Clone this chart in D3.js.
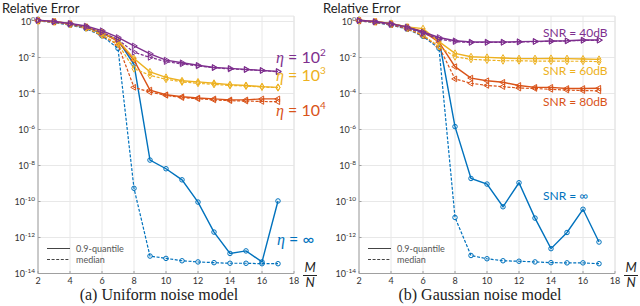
<!DOCTYPE html>
<html>
<head>
<meta charset="utf-8">
<script src="https://cdn.jsdelivr.net/npm/d3@7"></script>
<style>
body { margin: 0; background: #fff; }
svg { display: block; }
</style>
</head>
<body>
<svg id="chart" width="640" height="306" font-family="Lato, 'DejaVu Sans', sans-serif"></svg>
<script>
// M/N values (x axis)
var ratios = [2, 3, 4, 5, 6, 7, 8, 9, 10, 11, 12, 13, 14, 15, 16, 17];
var xTicks = [2, 4, 6, 8, 10, 12, 14, 16, 18];
var yTicks = [1e0, 1e-2, 1e-4, 1e-6, 1e-8, 1e-10, 1e-12, 1e-14];

// (a) uniform noise, 0.9-quantile (q) and median (m)
var uniEta2Q = [1.2, 1.02, 0.79, 0.56, 0.31, 0.13, 4.4e-2, 1.6e-2, 7.2e-3, 5.1e-3, 3.7e-3, 2.8e-3, 2.5e-3, 2.2e-3, 1.9e-3, 1.7e-3];
var uniEta2M = [1.12, 0.95, 0.71, 0.48, 0.25, 0.10, 1.95e-2, 1.02e-2, 5.9e-3, 4.4e-3, 3.4e-3, 2.7e-3, 2.3e-3, 2.1e-3, 1.9e-3, 1.6e-3];
var uniEta3Q = [1.15, 1.0, 0.76, 0.5, 0.25, 9.3e-2, 8.7e-3, 1.6e-3, 7.9e-4, 5.1e-4, 4.4e-4, 3.7e-4, 3.1e-4, 2.8e-4, 2.4e-4, 2.2e-4];
var uniEta3M = [1.07, 0.93, 0.68, 0.44, 0.18, 5.6e-2, 2.4e-3, 1.02e-3, 6.2e-4, 4.4e-4, 3.7e-4, 3.2e-4, 2.8e-4, 2.6e-4, 2.3e-4, 2.1e-4];
var uniEta4Q = [1.15, 1.0, 0.76, 0.5, 0.24, 7.9e-2, 7.2e-3, 1.55e-4, 8.5e-5, 6.6e-5, 5.6e-5, 5.0e-5, 4.4e-5, 4.4e-5, 5.0e-5, 5.0e-5];
var uniEta4M = [1.07, 0.93, 0.68, 0.44, 0.17, 5.0e-2, 2.2e-4, 1.2e-4, 7.9e-5, 5.9e-5, 5.1e-5, 4.4e-5, 4.0e-5, 3.8e-5, 3.6e-5, 3.5e-5];
var uniInfQ = [1.12, 0.98, 0.74, 0.48, 0.22, 9.3e-2, 4.2e-3, 2.0e-8, 6.6e-9, 1.6e-9, 9.3e-11, 2.0e-12, 1.3e-13, 1.8e-13, 4.4e-14, 1.07e-10];
var uniInfM = [1.05, 0.89, 0.63, 0.4, 0.16, 3.2e-2, 5.4e-10, 9.3e-14, 6.9e-14, 5.1e-14, 4.4e-14, 4.0e-14, 3.7e-14, 3.7e-14, 3.5e-14, 3.5e-14];

// (b) gaussian noise
var gauss40Q = [1.17, 1.0, 0.76, 0.5, 0.26, 0.13, 8.5e-2, 7.2e-2, 7.2e-2, 7.2e-2, 7.6e-2, 7.9e-2, 8.3e-2, 8.5e-2, 9.3e-2, 9.3e-2];
var gauss40M = [1.1, 0.93, 0.68, 0.43, 0.22, 0.105, 7.6e-2, 6.8e-2, 6.8e-2, 6.9e-2, 7.2e-2, 7.6e-2, 7.9e-2, 8.3e-2, 8.9e-2, 9.1e-2];
var gauss60Q = [1.17, 1.0, 0.79, 0.5, 0.4, 7.6e-2, 1.7e-2, 1.1e-2, 1.02e-2, 9.3e-3, 8.7e-3, 8.7e-3, 8.9e-3, 8.7e-3, 8.3e-3, 7.9e-3];
var gauss60M = [1.1, 0.93, 0.71, 0.43, 0.18, 4.0e-2, 1.1e-2, 7.9e-3, 7.2e-3, 6.6e-3, 6.6e-3, 6.3e-3, 6.3e-3, 6.2e-3, 6.2e-3, 5.9e-3];
var gauss80Q = [1.15, 1.0, 0.76, 0.5, 0.28, 7.1e-2, 3.1e-3, 7.2e-4, 5.1e-4, 4.2e-4, 2.8e-4, 2.2e-4, 2.2e-4, 1.9e-4, 1.9e-4, 1.95e-4];
var gauss80M = [1.07, 0.91, 0.66, 0.4, 0.16, 4.0e-2, 6.5e-4, 3.7e-4, 2.8e-4, 2.4e-4, 2.0e-4, 1.9e-4, 1.7e-4, 1.55e-4, 1.45e-4, 1.4e-4];
var gaussInfQ = [1.12, 0.98, 0.74, 0.48, 0.25, 0.1, 1.45e-6, 1.9e-9, 9.3e-10, 5.1e-11, 1.1e-9, 1.2e-11, 2.4e-13, 1.9e-12, 3.7e-11, 5.6e-13];
var gaussInfM = [1.05, 0.89, 0.63, 0.38, 0.15, 3.2e-2, 1.3e-11, 1.0e-13, 6.6e-14, 5.1e-14, 4.8e-14, 4.4e-14, 4.0e-14, 3.9e-14, 3.9e-14, 3.5e-14];

var blue = "#0072BD", orange = "#D95319", yellow = "#EDB120", purple = "#7E2F8E";

var svg = d3.select("#chart");
var yTop = 16.1, yBot = 273.5;
var serif = "'Liberation Serif', 'DejaVu Serif', serif";

function drawPanel(opt) {
    var x = d3.scaleLinear().domain([2, 18]).range([opt.x0, opt.x0 + 256]);
    var y = d3.scaleLog().domain([1e-14, Math.pow(10, 0.3)]).range([yBot, yTop]);
    var g = svg.append("g");

    // grid
    g.selectAll(".gx").data(xTicks).enter().append("line")
        .attr("x1", function(d){ return x(d); }).attr("x2", function(d){ return x(d); })
        .attr("y1", yTop).attr("y2", yBot)
        .attr("stroke", "#e8e8e8").attr("stroke-width", 1);
    g.selectAll(".gy").data(yTicks).enter().append("line")
        .attr("x1", x(2)).attr("x2", x(18))
        .attr("y1", function(d){ return y(d); }).attr("y2", function(d){ return y(d); })
        .attr("stroke", "#e8e8e8").attr("stroke-width", 1);
    g.append("line").attr("x1", x(2)).attr("x2", x(18)).attr("y1", yTop).attr("y2", yTop)
        .attr("stroke", "#e4e4e4");
    g.append("line").attr("x1", x(18)).attr("x2", x(18)).attr("y1", yTop).attr("y2", yBot)
        .attr("stroke", "#e4e4e4");

    // axes lines
    g.append("line").attr("x1", x(2)).attr("x2", x(2)).attr("y1", yTop).attr("y2", yBot)
        .attr("stroke", "#a0a0a0").attr("stroke-width", 1);
    g.append("line").attr("x1", x(2)).attr("x2", x(18)).attr("y1", yBot).attr("y2", yBot)
        .attr("stroke", "#a0a0a0").attr("stroke-width", 1);
    g.selectAll(".tx").data(xTicks).enter().append("line")
        .attr("x1", function(d){ return x(d); }).attr("x2", function(d){ return x(d); })
        .attr("y1", yBot).attr("y2", yBot - 2.5).attr("stroke", "#a0a0a0");
    g.selectAll(".ty").data(yTicks).enter().append("line")
        .attr("x1", x(2)).attr("x2", x(2) + 2.5)
        .attr("y1", function(d){ return y(d); }).attr("y2", function(d){ return y(d); })
        .attr("stroke", "#a0a0a0");

    // tick labels
    g.selectAll(".lx").data(xTicks).enter().append("text")
        .attr("x", function(d){ return x(d); }).attr("y", 284)
        .attr("text-anchor", "middle").attr("font-size", 9).attr("fill", "#333")
        .text(function(d){ return d; });
    var ly = g.selectAll(".ly").data(yTicks).enter().append("text")
        .attr("x", x(2) - 3).attr("y", function(d){ return y(d) + 3; })
        .attr("text-anchor", "end").attr("font-size", 9).attr("fill", "#333");
    ly.append("tspan").text("10");
    ly.append("tspan").attr("dy", -3.5).attr("font-size", 6.5)
        .text(function(d){ return Math.round(Math.log10(d)); });

    // title
    g.append("text").attr("x", opt.x0 - 36).attr("y", 12.5)
        .attr("font-size", 13).attr("fill", "#222").text("Relative Error");

    // M/N
    var fx = x(18) + 16;
    g.append("text").attr("x", fx).attr("y", 272).attr("text-anchor", "middle")
        .attr("font-size", 13).attr("font-style", "italic").attr("fill", "#222").text("M");
    g.append("line").attr("x1", fx - 7).attr("x2", fx + 7).attr("y1", 275.5).attr("y2", 275.5)
        .attr("stroke", "#222").attr("stroke-width", 1);
    g.append("text").attr("x", fx).attr("y", 287).attr("text-anchor", "middle")
        .attr("font-size", 13).attr("font-style", "italic").attr("fill", "#222").text("N");

    // caption
    g.append("text").attr("x", opt.x0 + 121).attr("y", 300).attr("text-anchor", "middle")
        .attr("font-family", serif)
        .attr("font-size", 16).attr("fill", "#222").text(opt.caption);

    // legend
    var lg = g.append("g");
    [["0.9-quantile", null, 248.5], ["median", "3,1.6", 259.5]].forEach(function(l){
        lg.append("line").attr("x1", opt.x0 + 9).attr("x2", opt.x0 + 32)
            .attr("y1", l[2]).attr("y2", l[2]).attr("stroke", "#444").attr("stroke-width", 1)
            .attr("stroke-dasharray", l[1]);
        lg.append("text").attr("x", opt.x0 + 38).attr("y", l[2] + 3)
            .attr("font-size", 9).attr("fill", "#555").text(l[0]);
    });

    // series
    var line = d3.line().x(function(d){ return x(d[0]); }).y(function(d){ return y(d[1]); });
    opt.series.forEach(function(s){
        [[s.q, null], [s.m, "3,1.6"]].forEach(function(pair){
            var pts = ratios.map(function(r, i){ return [r, pair[0][i]]; });
            g.append("path").datum(pts).attr("d", line)
                .attr("fill", "none").attr("stroke", s.color)
                .attr("stroke-width", pair[1] ? 1.2 : 1.4)
                .attr("stroke-dasharray", pair[1]);
            g.selectAll(null).data(pts).enter().append("path")
                .attr("d", d3.symbol().type(s.sym).size(s.size))
                .attr("transform", function(d){ return "translate(" + x(d[0]) + "," + y(d[1]) + ") rotate(" + s.rot + ")"; })
                .attr("fill", "none").attr("stroke", s.color).attr("stroke-width", 1);
        });
    });

    // curve labels
    opt.labels.forEach(function(l){
        var t = g.append("text").attr("x", l.x).attr("y", l.y)
            .attr("font-size", l.size).attr("fill", l.color);
        if (l.eta) {
            t.append("tspan").attr("font-family", serif)
                .attr("font-style", "italic").text("\u03b7");
            t.append("tspan").text(" = " + l.text);
            if (l.sup) t.append("tspan").attr("dy", -7).attr("font-size", 10).text(l.sup);
        } else {
            t.text(l.text);
        }
    });
}

var tri = d3.symbolTriangle, dia = d3.symbolDiamond, cir = d3.symbolCircle;

drawPanel({
    x0: 38,
    caption: "(a) Uniform noise model",
    series: [
        {q: uniInfQ, m: uniInfM, color: blue, sym: cir, size: 16, rot: 0},
        {q: uniEta4Q, m: uniEta4M, color: orange, sym: tri, size: 14, rot: -90},
        {q: uniEta3Q, m: uniEta3M, color: yellow, sym: dia, size: 14, rot: 0},
        {q: uniEta2Q, m: uniEta2M, color: purple, sym: tri, size: 14, rot: 90}
    ],
    labels: [
        {x: 276, y: 63, text: "10", sup: "2", eta: true, color: purple, size: 16},
        {x: 276, y: 81, text: "10", sup: "3", eta: true, color: yellow, size: 16},
        {x: 276, y: 116, text: "10", sup: "4", eta: true, color: orange, size: 16},
        {x: 277, y: 245, text: "\u221e", eta: true, color: blue, size: 16}
    ]
});

drawPanel({
    x0: 359,
    caption: "(b) Gaussian noise model",
    series: [
        {q: gaussInfQ, m: gaussInfM, color: blue, sym: cir, size: 16, rot: 0},
        {q: gauss80Q, m: gauss80M, color: orange, sym: tri, size: 14, rot: -90},
        {q: gauss60Q, m: gauss60M, color: yellow, sym: dia, size: 14, rot: 0},
        {q: gauss40Q, m: gauss40M, color: purple, sym: tri, size: 14, rot: 90}
    ],
    labels: [
        {x: 543, y: 37, text: "SNR = 40dB", color: purple, size: 12},
        {x: 543, y: 75, text: "SNR = 60dB", color: yellow, size: 12},
        {x: 543, y: 106, text: "SNR = 80dB", color: orange, size: 12},
        {x: 543, y: 200, text: "SNR = \u221e", color: blue, size: 12}
    ]
});
</script>
</body>
</html>
